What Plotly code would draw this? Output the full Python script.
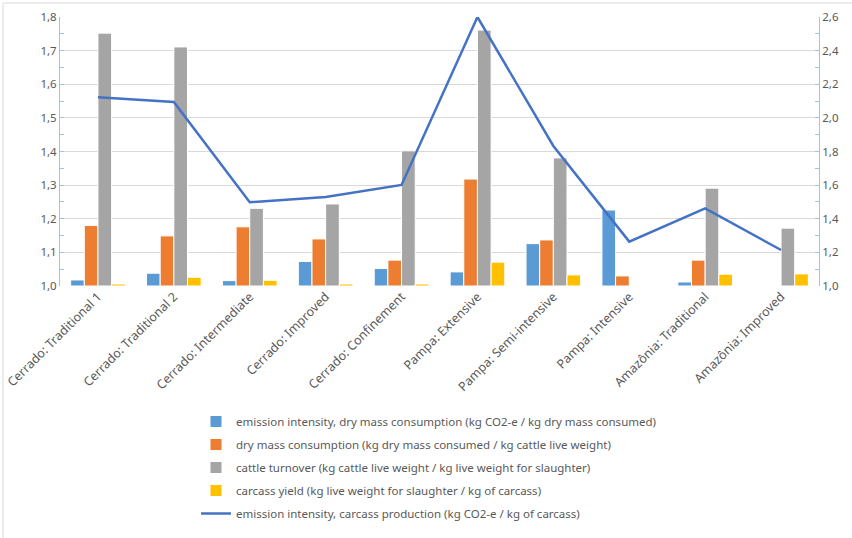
import plotly.graph_objects as go

categories = ["Cerrado: Traditional 1", "Cerrado: Traditional 2", "Cerrado: Intermediate",
              "Cerrado: Improved", "Cerrado: Confinement", "Pampa: Extensive",
              "Pampa: Semi-intensive", "Pampa: Intensive", "Amazônia: Traditional",
              "Amazônia: Improved"]

emission_dry_mass = [1.018, 1.038, 1.016, 1.073, 1.052, 1.042, 1.126, 1.226, 1.012, None]
dry_mass_consumption = [1.180, 1.149, 1.176, 1.140, 1.077, 1.318, 1.137, 1.030, 1.077, None]
cattle_turnover = [1.752, 1.711, 1.231, 1.244, 1.402, 1.761, 1.381, None, 1.291, 1.172]
carcass_yield = [1.006, 1.026, 1.017, 1.006, 1.006, 1.071, 1.033, None, 1.035, 1.036]
emission_carcass = [2.122, 2.094, 1.498, 1.529, 1.601, 2.600, 1.833, 1.264, 1.462, 1.214]

names = [
    "emission intensity, dry mass consumption (kg CO2-e / kg dry mass consumed)",
    "dry mass consumption (kg dry mass consumed / kg cattle live weight)",
    "cattle turnover (kg cattle live weight / kg live weight for slaughter)",
    "carcass yield (kg live weight for slaughter / kg of carcass)",
    "emission intensity, carcass production (kg CO2-e / kg of carcass)",
]
colors = ["#5b9bd5", "#ed7d31", "#a5a5a5", "#ffc000", "#4472c4"]

fig = go.Figure()
for i, vals in enumerate([emission_dry_mass, dry_mass_consumption, cattle_turnover, carcass_yield]):
    fig.add_trace(go.Bar(
        x=categories, y=[None if v is None else v - 1.0 for v in vals], base=1.0,
        name=names[i], marker=dict(color=colors[i], line=dict(color="white", width=1)),
        legendgroup=f"g{i}",
    ))
fig.add_trace(go.Scatter(
    x=categories, y=emission_carcass, mode="lines", name=names[4],
    line=dict(color=colors[4], width=2.5), yaxis="y2", legendgroup="g4",
))

font_col = "#595959"
axis_col = "#9dc3e6"
L, R, T, B = 60, 33, 17, 252
pw = 852 - L - R
ph = 538 - T - B

fig.update_layout(
    width=852, height=538,
    margin=dict(l=L, r=R, t=T, b=B, autoexpand=False),
    paper_bgcolor="white", plot_bgcolor="white",
    separators=",.",
    barmode="group", bargap=0.28, bargroupgap=0,
    font=dict(family="Noto Sans", size=11, color=font_col),
    xaxis=dict(tickangle=-45, tickfont=dict(size=12.5, color=font_col), showgrid=False,
               showline=False, ticks="", automargin=False),
    yaxis=dict(range=[1.0, 1.8], dtick=0.1, tickformat=".1f", showgrid=True,
               gridcolor="#d9d9d9", gridwidth=1, showline=True, linecolor=axis_col,
               ticks="inside", ticklen=4, tickcolor=axis_col, automargin=False,
               minor=dict(dtick=0.05, ticks="inside", ticklen=4, tickcolor=axis_col, showgrid=False),
               tickfont=dict(size=11.5, color=font_col), zeroline=False),
    yaxis2=dict(range=[1.0, 2.6], dtick=0.2, tickformat=".1f", overlaying="y", side="right",
                showgrid=False, showline=True, linecolor=axis_col, automargin=False,
                ticks="inside", ticklen=4, tickcolor=axis_col,
                minor=dict(dtick=0.1, ticks="inside", ticklen=4, tickcolor=axis_col),
                tickfont=dict(size=11.5, color=font_col), zeroline=False),
    legend=dict(x=(196 - L) / pw, xanchor="left", y=(T + ph - 407) / ph, yanchor="top",
                orientation="v", traceorder="grouped", tracegroupgap=4,
                font=dict(size=11.5, color=font_col), bgcolor="rgba(0,0,0,0)"),
    shapes=[dict(type="rect", xref="paper", yref="paper",
                 x0=(3 - L) / pw, x1=(856 - L) / pw,
                 y0=(T + ph - 545) / ph, y1=(T + ph - 3) / ph,
                 line=dict(color="#d9d9d9", width=1), layer="below")],
)

fig.write_html("out.html")
